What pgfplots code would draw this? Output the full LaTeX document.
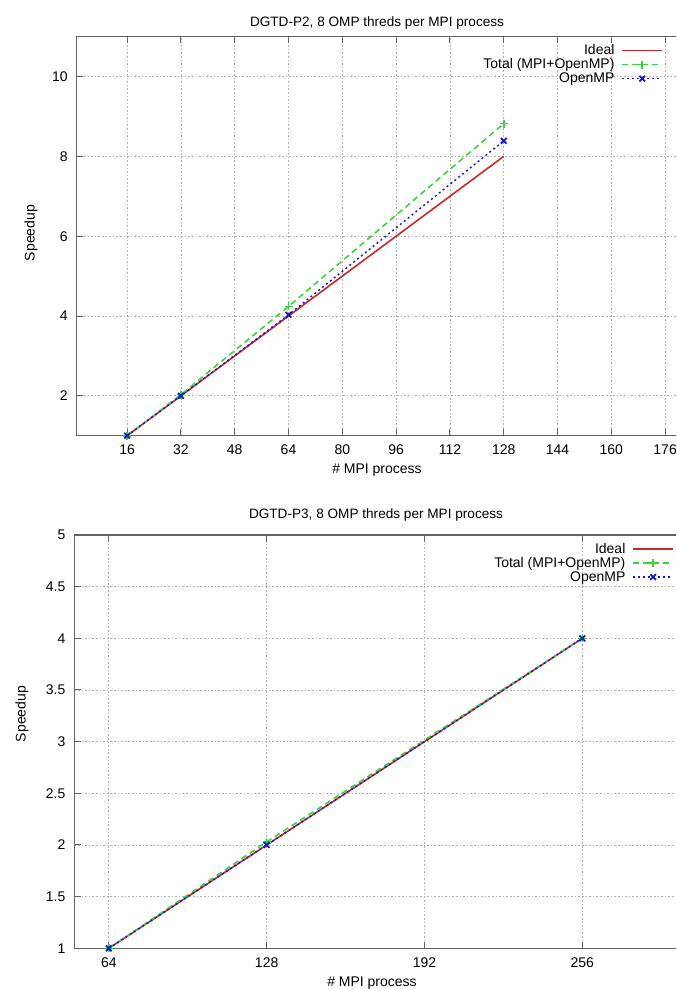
\documentclass[border=0pt]{standalone}
\usepackage{fontspec}
\setmainfont{Liberation Sans}
\usepackage{pgfplots}
\pgfplotsset{compat=1.18}
\definecolor{cIdeal}{RGB}{200,40,40}
\definecolor{cTotal}{RGB}{60,210,60}
\definecolor{cOmp}{RGB}{20,20,200}
\definecolor{cGrid}{RGB}{175,175,175}
\definecolor{cAxis}{RGB}{100,100,100}
\newcommand{\gpfont}{\fontsize{7}{8}\selectfont}
\pgfplotsset{
  gp/.style={
    scale only axis,
    axis line style={cAxis, line width=0.6pt},
    tick align=inside,
    major tick length=3.3pt,
    tick style={cAxis, line width=0.5pt},
    grid=major,
    major grid style={cGrid, line width=0.35pt, dash pattern=on 0.8pt off 1pt},
    tick label style={font=\gpfont},
    /pgf/number format/assume math mode=true,
    xticklabel style={anchor=center, yshift=-7.2pt},
    yticklabel style={anchor=east, inner sep=0pt, xshift=-4.3pt},
    legend plot pos=right,
    legend cell align=right,
    legend style={draw=none, fill=none, font=\gpfont, inner sep=0pt, outer sep=0pt,
      nodes={inner sep=0.5pt, text height=5pt, text depth=1pt},
      row sep=0pt, column sep=3pt, anchor=north east},
    legend image code/.code={\draw[mark repeat=2,mark phase=2,##1] plot coordinates {(0pt,0pt) (10pt,0pt) (20pt,0pt)};},
  },
  ideal/.style={cIdeal, line width=0.8pt, no marks},
  total/.style={cTotal, line width=0.8pt, dash pattern=on 3pt off 2pt, mark=+, mark size=2pt, mark options={solid}},
  omp/.style={cOmp, line width=0.7pt, dash pattern=on 1pt off 1.5pt, mark=x, mark size=2pt, mark options={solid, line width=0.9pt}},
}
\begin{document}
\begin{tikzpicture}
\useasboundingbox (0pt,0pt) rectangle (338pt,-494.5pt);
\clip (0pt,0pt) rectangle (338pt,-494.5pt);
% ---------- top ----------
\begin{axis}[gp,
  at={(38.35pt,-217.85pt)}, anchor=south west,
  width=321.1pt, height=199.5pt,
  xmin=1, xmax=192, ymin=1, ymax=11,
  xtick={16,32,48,64,80,96,112,128,144,160,176,192},
  ytick={2,4,6,8,10},
  legend style={at={(0.913,0.9825)}},
]
\addplot[ideal] coordinates {(16,1) (32,2) (64,4) (128,8)};
\addlegendentry{Ideal}
\addplot[total] coordinates {(16,1) (32,2.03) (64,4.24) (128,8.82)};
\addlegendentry{Total (MPI+OpenMP)}
\addplot[omp] coordinates {(16,1) (32,2) (64,4.03) (128,8.39)};
\addlegendentry{OpenMP}
\end{axis}
% ---------- bottom ----------
\begin{axis}[gp,
  at={(37.15pt,-474.15pt)}, anchor=south west,
  width=308.25pt, height=206.65pt,
  xmin=50, xmax=300, ymin=1, ymax=5,
  xtick={64,128,192,256},
  ytick={1,1.5,2,2.5,3,3.5,4,4.5,5},
  legend style={at={(0.9727,0.983)}},
]
\addplot[ideal] coordinates {(64,1) (128,2) (256,4)};
\addlegendentry{Ideal}
\addplot[total] coordinates {(64,1) (128,2.03) (256,4)};
\addlegendentry{Total (MPI+OpenMP)}
\addplot[omp] coordinates {(64,1) (128,2) (256,4)};
\addlegendentry{OpenMP}
\end{axis}
% ---------- titles and labels ----------
\node[font=\fontsize{6.8}{8}\selectfont] at (188.5pt,-11.5pt) {DGTD-P2, 8 OMP threds per MPI process};
\node[font=\gpfont] at (188.5pt,-235pt) {\# MPI process};
\node[font=\gpfont, rotate=90] at (15.5pt,-116.5pt) {Speedup};
\node[font=\fontsize{6.8}{8}\selectfont] at (188pt,-257.5pt) {DGTD-P3, 8 OMP threds per MPI process};
\node[font=\gpfont] at (186pt,-491.5pt) {\# MPI process};
\node[font=\gpfont, rotate=90] at (11pt,-357pt) {Speedup};
\end{tikzpicture}
\end{document}
